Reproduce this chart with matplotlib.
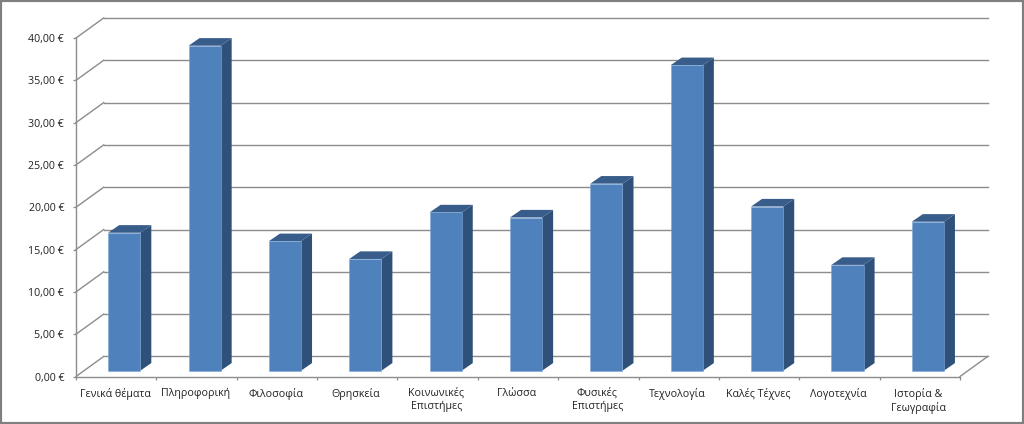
import matplotlib
matplotlib.use("Agg")
import matplotlib.pyplot as plt
from matplotlib.patches import Polygon, Rectangle

categories = ["Γενικά θέματα", "Πληροφορική", "Φιλοσοφία", "Θρησκεία",
              "Κοινωνικές\nΕπιστήμες", "Γλώσσα", "Φυσικές\nΕπιστήμες",
              "Τεχνολογία", "Καλές Τέχνες", "Λογοτεχνία", "Ιστορία &\nΓεωγραφία"]
values = [16.3, 38.4, 15.3, 13.2, 18.7, 18.1, 22.1, 36.1, 19.4, 12.5, 17.6]
yticks = [0, 5, 10, 15, 20, 25, 30, 35, 40]

W, H = 1024, 424
GRID = "#8c8c8c"
FRONT = "#4f81bd"
SIDE = "#2f5078"
TOP = "#385d8a"

# oblique depth of the box, in data units
depth_x = 0.345
depth_y = 2.37
bar_w = 0.40

plt.rcParams["font.family"] = ["Open Sans", "DejaVu Sans"]
fig = plt.figure(figsize=(W / 100, H / 100), dpi=100)
fig.patch.set_facecolor("white")
fig.add_artist(Rectangle((0, 0), 1, 1, transform=fig.transFigure, fill=False,
                         edgecolor="#7f7f7f", linewidth=3))

left, right, top, bottom = 76, 960, 38, 376.5
ax = fig.add_axes([left / W, 1 - bottom / H, (right - left) / W, (bottom - top) / H])
ax.set_xlim(0, len(categories))
ax.set_ylim(0, 40)
ax.patch.set_alpha(0)

# back wall, side wall and floor
for v in yticks:
    ax.plot([depth_x, len(categories) + depth_x], [v + depth_y, v + depth_y],
            color=GRID, lw=1.0, zorder=1, clip_on=False)
    ax.plot([0, depth_x], [v, v + depth_y], color=GRID, lw=1.0, zorder=1, clip_on=False)
ax.plot([len(categories), len(categories) + depth_x], [0, depth_y],
        color=GRID, lw=1.0, zorder=1, clip_on=False)

# front of each bar sits part way into the box
off_x = 0.29 * depth_x
off_y = 0.29 * depth_y
dx = 0.137
dy = 0.9
for i, v in enumerate(values):
    x0 = i + 0.5 + off_x - bar_w / 2
    x1 = x0 + bar_w
    y0 = off_y
    y1 = off_y + v
    ax.add_patch(Polygon([(x1, y0), (x1 + dx, y0 + dy), (x1 + dx, y1 + dy), (x1, y1)],
                         facecolor=SIDE, edgecolor="none", zorder=3, clip_on=False))
    ax.add_patch(Polygon([(x0, y1), (x1, y1), (x1 + dx, y1 + dy), (x0 + dx, y1 + dy)],
                         facecolor=TOP, edgecolor="none", zorder=3, clip_on=False))
    ax.bar(x0, v, width=bar_w, bottom=y0, align="edge", color=FRONT,
           edgecolor="#7fa8d8", linewidth=0.4, zorder=4, clip_on=False)

for s in ["top", "right"]:
    ax.spines[s].set_visible(False)
for s in ["left", "bottom"]:
    ax.spines[s].set_color(GRID)
    ax.spines[s].set_linewidth(1.0)

ax.set_yticks(yticks)
ax.set_yticklabels([f"{v:.2f}".replace(".", ",") + " €" for v in yticks])
ax.tick_params(axis="y", length=2.5, width=0.9, color=GRID, labelsize=7.7,
               labelcolor="#222222", pad=6)
ax.set_xticks(range(len(categories) + 1))
ax.set_xticklabels([])
ax.set_xticks([i + 0.485 for i in range(len(categories))], minor=True)
ax.set_xticklabels(categories, minor=True, fontsize=7.7, color="#222222", linespacing=1.3)
ax.tick_params(axis="x", which="major", length=2.5, width=0.9, color=GRID)
ax.tick_params(axis="x", which="minor", length=0, pad=8)

fig.savefig("out.png", dpi=100)
